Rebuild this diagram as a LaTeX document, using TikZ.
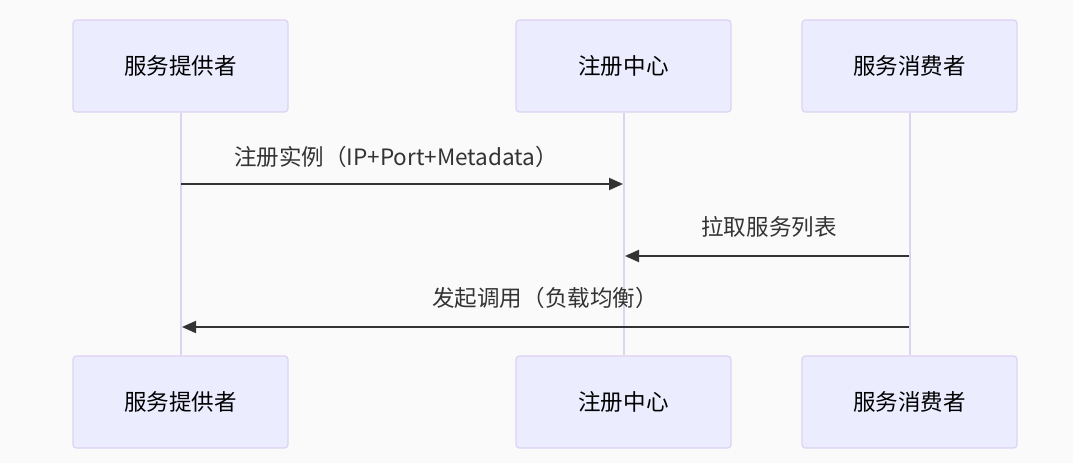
\documentclass[tikz,border=0pt]{standalone}
\usepackage{fontspec}
\setmainfont{Noto Sans CJK SC}
\usetikzlibrary{arrows.meta}
\definecolor{bgc}{HTML}{FAFAFA}
\definecolor{actfill}{HTML}{ECECFF}
\definecolor{actline}{HTML}{DDD3F3}
\definecolor{msgc}{HTML}{333333}
\tikzset{
  actor/.style={draw=actline, fill=actfill, line width=0.9pt, rounded corners=2.5pt,
    minimum width=161.25pt, minimum height=69pt, inner sep=0pt, font=\fontsize{16.9}{20}\selectfont, text=black},
  life/.style={draw=actline, line width=1.5pt},
  msg/.style={draw=msgc, line width=1.5pt, -{Triangle[length=10.5pt,width=9pt]}},
  lbl/.style={font=\fontsize{16.9}{20}\selectfont, text=msgc, inner sep=0pt}
}
\begin{document}
\begin{tikzpicture}[x=0.75pt,y=-0.75pt]
\fill[bgc] (0,0) rectangle (1073,463);
\useasboundingbox (0,0) rectangle (1073,463);
% top actors
\node[actor] (p1) at (180.5,66) {服务提供者};
\node[actor] (r1) at (623.5,66) {注册中心};
\node[actor] (c1) at (909.5,66) {服务消费者};
% bottom actors
\node[actor] (p2) at (180.5,402) {服务提供者};
\node[actor] (r2) at (623.5,402) {注册中心};
\node[actor] (c2) at (909.5,402) {服务消费者};
% lifelines
\draw[life] (p1.south) -- (p2.north);
\draw[life] (r1.south) -- (r2.north);
\draw[life] (c1.south) -- (c2.north);
% message endpoints
\coordinate (pA) at (181,184);
\coordinate (rA) at (623,184);
\coordinate (cB) at (909,256);
\coordinate (rB) at (625,256);
\coordinate (cC) at (909,327);
\coordinate (pC) at (182,327);
\draw[msg] (pA) -- (rA);
\draw[msg] (cB) -- (rB);
\draw[msg] (cC) -- (pC);
% labels
\node[lbl] (l1) at (396,157) {注册实例（IP+Port+Metadata）};
\node[lbl] (l2) at (769,227) {拉取服务列表};
\node[lbl] (l3) at (545,298) {发起调用（负载均衡）};
\end{tikzpicture}
\end{document}
